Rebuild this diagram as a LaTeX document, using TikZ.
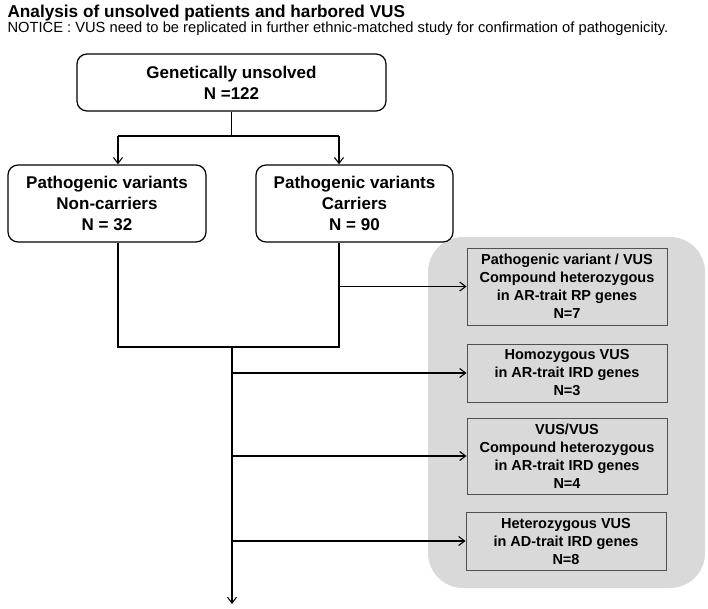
\documentclass[tikz,border=0pt]{standalone}
\usepackage{fontspec}
\setmainfont{Liberation Sans}
\usepackage{xcolor}
\usetikzlibrary{arrows.meta}

\definecolor{panelgray}{RGB}{217,217,217}
\definecolor{edgegray}{RGB}{80,80,80}

\begin{document}
\begin{tikzpicture}[x=1pt, y=-1pt,
    flowbox/.style={draw, rounded corners=10pt, line width=1.2pt, align=center,
        font=\fontsize{17}{21}\selectfont\bfseries, inner sep=0pt},
    vusbox/.style={draw=edgegray, fill=panelgray, line width=0.9pt, align=center,
        font=\fontsize{14.5}{18}\selectfont\bfseries, minimum width=200pt, inner sep=0pt},
    link/.style={line width=1.1pt},
    arr/.style={link, -{Straight Barb[length=6pt,width=9pt]}}]
            \useasboundingbox (0,0) rectangle (708,608);

            % Heading
            \node[anchor=base west, font=\fontsize{17.2}{21}\selectfont\bfseries] (title) at (4,17)
                {Analysis of unsolved patients and harbored VUS};
            \node[anchor=base west, font=\fontsize{14.7}{18}\selectfont] (notice) at (4,32.5)
                {NOTICE : VUS need to be replicated in further ethnic-matched study for confirmation of pathogenicity.};

            % Gray panel behind the VUS groups
            \fill[panelgray, rounded corners=35pt] (428,237) rectangle (705,588);

            % Main flow
            \node[flowbox, minimum width=309pt, minimum height=57pt] (unsolved) at (231.5,82.5)
                {Genetically unsolved\\N =122};
            \node[flowbox, minimum width=198pt, minimum height=77pt] (noncarrier) at (107,203.5)
                {Pathogenic variants\\Non-carriers\\N = 32};
            \node[flowbox, minimum width=197pt, minimum height=77pt] (carrier) at (354.5,203.5)
                {Pathogenic variants\\Carriers\\N = 90};

            % VUS groups
            \node[vusbox, minimum height=77pt] (vusA) at (567,286.5)
                {Pathogenic variant / VUS\\Compound heterozygous\\in AR-trait RP genes\\N=7};
            \node[vusbox, minimum height=58pt] (vusB) at (567,373)
                {Homozygous VUS\\in AR-trait IRD genes\\N=3};
            \node[vusbox, minimum height=76pt] (vusC) at (567,456)
                {VUS/VUS\\Compound heterozygous\\in AR-trait IRD genes\\N=4};
            \node[vusbox, minimum height=58pt] (vusD) at (566,541)
                {Heterozygous VUS\\in AD-trait IRD genes\\N=8};

            % Split into carriers / non-carriers
            \coordinate (splitL) at (118,136);
            \coordinate (splitR) at (339,136);
            \coordinate (merge) at (232,347);
            \coordinate (stop) at (232,604);
            \draw[link] (unsolved.south) -- (unsolved.south |- splitL);
            \draw[link] (splitL) -- (splitR);
            \draw[arr] (splitL) -- (splitL |- noncarrier.north);
            \draw[arr] (splitR) -- (splitR |- carrier.north);

            % Merge back and branch to the VUS groups
            \draw[link] (splitL |- noncarrier.south) -- (splitL |- merge) -- (splitR |- merge)
                -- (splitR |- carrier.south);
            \draw[arr] (splitR |- vusA.west) -- (vusA.west);
            \draw[arr] (merge) -- (stop);
            \draw[arr] (merge |- vusB.west) -- (vusB.west);
            \draw[arr] (merge |- vusC.west) -- (vusC.west);
            \draw[arr] (merge |- vusD.west) -- (vusD.west);
        \end{tikzpicture}
\end{document}
